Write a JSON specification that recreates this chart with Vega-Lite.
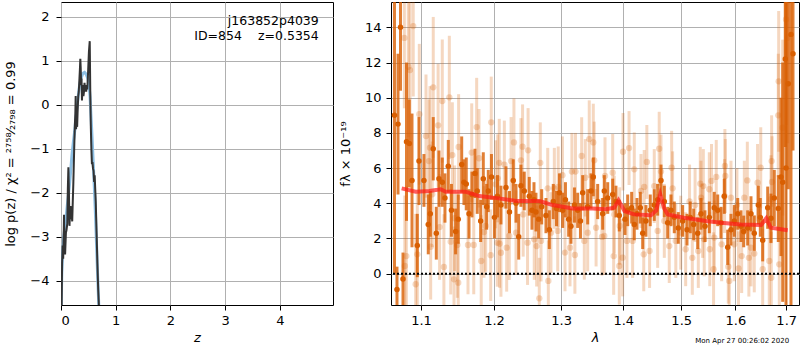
{
"$schema": "https://vega.github.io/schema/vega-lite/v6.json",
"background": "white",
"padding": {"left": 4, "top": 1, "right": 2, "bottom": 0},
"spacing": 4,
"config": {
  "font": "DejaVu Sans",
  "view": {"stroke": "black", "strokeWidth": 1},
  "axis": {"grid": true, "gridColor": "#b0b0b0", "gridWidth": 1, "domain": false, "tickColor": "black", "tickSize": 5, "labelFont": "DejaVu Sans", "labelFontSize": 13, "labelColor": "black", "titleFont": "DejaVu Sans", "titleFontSize": 13, "titleFontWeight": "normal", "titleColor": "black"}
},
"datasets": {
  "pz": [
    {"z":0.012,"lp":-4.55},{"z":0.02,"lp":-3.6},{"z":0.03,"lp":-3.2},{"z":0.04,"lp":-3.5},{"z":0.05,"lp":-2.9},{"z":0.055,"lp":-2.5},{"z":0.065,"lp":-3.3},{"z":0.075,"lp":-3.4},{"z":0.09,"lp":-2.9},{"z":0.1,"lp":-2.85},{"z":0.115,"lp":-2.7},{"z":0.125,"lp":-1.9},{"z":0.135,"lp":-1.42},{"z":0.145,"lp":-2.0},{"z":0.155,"lp":-2.75},{"z":0.165,"lp":-2.4},{"z":0.175,"lp":-2.3},{"z":0.185,"lp":-2.6},{"z":0.195,"lp":-2.5},{"z":0.205,"lp":-2.65},{"z":0.215,"lp":-2.2},{"z":0.225,"lp":-1.8},{"z":0.235,"lp":-1.3},{"z":0.245,"lp":-0.8},{"z":0.255,"lp":-0.4},{"z":0.262,"lp":-0.2},{"z":0.268,"lp":0.2},{"z":0.275,"lp":-0.55},{"z":0.285,"lp":-0.3},{"z":0.295,"lp":-0.5},{"z":0.305,"lp":-0.1},{"z":0.315,"lp":0.2},{"z":0.325,"lp":0.3},{"z":0.335,"lp":0.55},{"z":0.345,"lp":0.8},{"z":0.353,"lp":1.05},{"z":0.36,"lp":0.85},{"z":0.368,"lp":0.45},{"z":0.375,"lp":0.6},{"z":0.383,"lp":0.1},{"z":0.39,"lp":0.35},{"z":0.4,"lp":0.45},{"z":0.41,"lp":0.2},{"z":0.42,"lp":0.3},{"z":0.43,"lp":0.5},{"z":0.44,"lp":0.3},{"z":0.45,"lp":0.4},{"z":0.46,"lp":0.3},{"z":0.47,"lp":0.45},{"z":0.48,"lp":0.35},{"z":0.49,"lp":0.6},{"z":0.5,"lp":0.9},{"z":0.51,"lp":1.2},{"z":0.525,"lp":1.45},{"z":0.535,"lp":0.3},{"z":0.545,"lp":-0.5},{"z":0.555,"lp":-1.0},{"z":0.565,"lp":-1.35},{"z":0.575,"lp":-1.3},{"z":0.585,"lp":-1.45},{"z":0.595,"lp":-1.5},{"z":0.605,"lp":-1.75},{"z":0.615,"lp":-1.6},{"z":0.625,"lp":-1.9},{"z":0.635,"lp":-2.2},{"z":0.65,"lp":-2.9},{"z":0.665,"lp":-3.6},{"z":0.68,"lp":-4.2},{"z":0.692,"lp":-4.55}
  ],
  "pzfit": [
    {"z":0.003,"lp":-4.55},{"z":0.015,"lp":-3.8},{"z":0.03,"lp":-3.35},{"z":0.05,"lp":-3.0},{"z":0.085,"lp":-2.65},{"z":0.11,"lp":-2.35},{"z":0.135,"lp":-2.05},{"z":0.16,"lp":-1.75},{"z":0.18,"lp":-1.45},{"z":0.2,"lp":-1.15},{"z":0.225,"lp":-0.85},{"z":0.25,"lp":-0.6},{"z":0.28,"lp":-0.2},{"z":0.31,"lp":0.15},{"z":0.34,"lp":0.45},{"z":0.37,"lp":0.62},{"z":0.4,"lp":0.72},{"z":0.43,"lp":0.74},{"z":0.46,"lp":0.7},{"z":0.49,"lp":0.6},{"z":0.51,"lp":0.48},{"z":0.53,"lp":0.2},{"z":0.55,"lp":-0.3},{"z":0.57,"lp":-0.8},{"z":0.59,"lp":-1.35},{"z":0.61,"lp":-1.9},{"z":0.63,"lp":-2.5},{"z":0.65,"lp":-3.2},{"z":0.67,"lp":-3.9},{"z":0.69,"lp":-4.55}
  ],
  "lbl": [
    {"z":4.71,"lp":1.825,"t":"j163852p4039"},{"z":3.306,"lp":1.484,"t":"ID=854"},{"z":4.71,"lp":1.484,"t":"z=0.5354"}
  ],
  "dark": [
    {"l":1.0658,"f":9.0,"e":9.0},{"l":1.069,"f":-0.9,"e":1.3},{"l":1.0703,"f":8.5,"e":4.0},{"l":1.0735,"f":14.0,"e":3.6},{"l":1.0767,"f":-0.3,"e":1.5},{"l":1.0812,"f":7.5,"e":4.5},{"l":1.0848,"f":7.4,"e":2.5},{"l":1.0883,"f":5.3,"e":3.8},{"l":1.0952,"f":1.6,"e":1.8},{"l":1.0974,"f":6.4,"e":2.5},{"l":1.1039,"f":5.3,"e":1.5},{"l":1.1096,"f":2.8,"e":1.7},{"l":1.1123,"f":3.4,"e":1.3},{"l":1.1162,"f":7.1,"e":1.8},{"l":1.1203,"f":2.3,"e":1.5},{"l":1.1238,"f":5.4,"e":1.6},{"l":1.1283,"f":5.2,"e":1.4},{"l":1.1319,"f":4.3,"e":1.4},{"l":1.1364,"f":6.1,"e":1.5},{"l":1.1407,"f":3.6,"e":1.5},{"l":1.1464,"f":2.4,"e":1.3},{"l":1.15,"f":3.1,"e":1.4},{"l":1.1547,"f":6.2,"e":1.6},{"l":1.1578,"f":5.2,"e":1.3},{"l":1.161,"f":5.1,"e":1.5},{"l":1.1648,"f":3.4,"e":1.4},{"l":1.1689,"f":4.5,"e":1.3},{"l":1.1731,"f":5.7,"e":1.4},{"l":1.1763,"f":4.7,"e":1.3},{"l":1.1811,"f":3.0,"e":1.2},{"l":1.1848,"f":5.4,"e":1.5},{"l":1.1896,"f":3.8,"e":1.3},{"l":1.1919,"f":4.7,"e":1.2},{"l":1.1964,"f":5.5,"e":1.3},{"l":1.2007,"f":3.2,"e":1.2},{"l":1.205,"f":4.4,"e":1.2},{"l":1.21,"f":3.9,"e":1.1},{"l":1.2173,"f":4.9,"e":1.2},{"l":1.2224,"f":3.5,"e":1.2},{"l":1.2279,"f":5.3,"e":1.2},{"l":1.2319,"f":4.0,"e":1.1},{"l":1.2359,"f":2.1,"e":1.3},{"l":1.2392,"f":5.0,"e":1.2},{"l":1.2441,"f":4.7,"e":1.1},{"l":1.2516,"f":4.4,"e":1.1},{"l":1.2556,"f":3.6,"e":1.1},{"l":1.2586,"f":4.2,"e":1.0},{"l":1.2616,"f":3.5,"e":1.1},{"l":1.2657,"f":3.1,"e":1.1},{"l":1.2702,"f":3.8,"e":1.0},{"l":1.2767,"f":3.3,"e":1.0},{"l":1.2818,"f":2.5,"e":1.1},{"l":1.2879,"f":4.1,"e":1.0},{"l":1.2928,"f":3.7,"e":1.0},{"l":1.2974,"f":4.6,"e":1.1},{"l":1.3024,"f":3.6,"e":1.0},{"l":1.3067,"f":4.2,"e":1.0},{"l":1.3117,"f":3.1,"e":1.0},{"l":1.3153,"f":2.7,"e":1.0},{"l":1.3208,"f":3.9,"e":1.0},{"l":1.3259,"f":3.6,"e":1.0},{"l":1.3303,"f":3.0,"e":1.0},{"l":1.3338,"f":4.6,"e":1.0},{"l":1.3418,"f":3.8,"e":1.0},{"l":1.3471,"f":4.7,"e":1.0},{"l":1.3508,"f":5.5,"e":1.1},{"l":1.3579,"f":4.1,"e":1.0},{"l":1.366,"f":3.4,"e":0.9},{"l":1.3686,"f":4.7,"e":0.9},{"l":1.3742,"f":4.3,"e":0.9},{"l":1.3824,"f":4.5,"e":0.9},{"l":1.3878,"f":4.1,"e":0.9},{"l":1.3933,"f":3.3,"e":0.9},{"l":1.4028,"f":3.1,"e":0.9},{"l":1.4073,"f":3.6,"e":0.9},{"l":1.414,"f":3.75,"e":0.9},{"l":1.4184,"f":2.8,"e":0.9},{"l":1.423,"f":3.4,"e":0.9},{"l":1.4286,"f":3.75,"e":0.9},{"l":1.4327,"f":2.3,"e":0.9},{"l":1.4383,"f":3.0,"e":0.9},{"l":1.4457,"f":3.6,"e":0.9},{"l":1.4526,"f":3.9,"e":0.9},{"l":1.4585,"f":4.2,"e":0.9},{"l":1.4643,"f":5.3,"e":0.9},{"l":1.4701,"f":4.1,"e":0.9},{"l":1.476,"f":2.9,"e":0.9},{"l":1.4818,"f":3.6,"e":0.9},{"l":1.4877,"f":3.2,"e":0.9},{"l":1.4948,"f":2.6,"e":0.9},{"l":1.5026,"f":3.0,"e":0.9},{"l":1.5104,"f":2.5,"e":0.9},{"l":1.5163,"f":3.2,"e":0.9},{"l":1.5225,"f":2.8,"e":0.9},{"l":1.5298,"f":2.3,"e":0.9},{"l":1.5358,"f":3.4,"e":0.9},{"l":1.5431,"f":2.7,"e":0.9},{"l":1.5511,"f":3.2,"e":0.9},{"l":1.5603,"f":3.75,"e":0.9},{"l":1.5667,"f":3.6,"e":0.9},{"l":1.5728,"f":2.9,"e":0.9},{"l":1.579,"f":4.4,"e":1.0},{"l":1.5855,"f":1.5,"e":1.0},{"l":1.5917,"f":2.5,"e":0.9},{"l":1.598,"f":3.0,"e":0.9},{"l":1.6045,"f":3.4,"e":0.9},{"l":1.6108,"f":2.7,"e":0.9},{"l":1.616,"f":2.4,"e":0.9},{"l":1.6237,"f":2.6,"e":1.0},{"l":1.6301,"f":3.4,"e":1.0},{"l":1.6365,"f":2.3,"e":1.0},{"l":1.6444,"f":3.9,"e":1.1},{"l":1.6483,"f":3.2,"e":1.1},{"l":1.653,"f":1.9,"e":1.2},{"l":1.6629,"f":3.75,"e":1.2},{"l":1.6694,"f":3.15,"e":1.4},{"l":1.676,"f":4.3,"e":1.6},{"l":1.684,"f":3.7,"e":1.9},{"l":1.6895,"f":5.5,"e":4.5},{"l":1.6929,"f":5.2,"e":6.8},{"l":1.6981,"f":12.2,"e":5.0},{"l":1.6996,"f":6.0,"e":12.0},{"l":1.7042,"f":10.8,"e":6.0},{"l":1.7097,"f":13.6,"e":15.6},{"l":1.7138,"f":12.5,"e":5.5}
  ],
  "light": [
    {"l":1.0784,"f":13.4,"e":4},{"l":1.079,"f":0.44,"e":4},{"l":1.081,"f":1.0,"e":4},{"l":1.0835,"f":11.76,"e":4},{"l":1.0857,"f":11.57,"e":4},{"l":1.0899,"f":14.07,"e":4},{"l":1.0931,"f":-0.6,"e":4},{"l":1.0952,"f":1.1,"e":3.5},{"l":1.0978,"f":9.06,"e":4},{"l":1.1066,"f":7.82,"e":3.5},{"l":1.1105,"f":6.4,"e":3.5},{"l":1.1119,"f":7.16,"e":3.5},{"l":1.1128,"f":1.53,"e":3},{"l":1.1149,"f":4.51,"e":3},{"l":1.1162,"f":10.59,"e":4},{"l":1.1227,"f":8.43,"e":3.5},{"l":1.1247,"f":2.65,"e":3},{"l":1.1283,"f":9.81,"e":3.5},{"l":1.1305,"f":0.38,"e":3},{"l":1.1378,"f":10.02,"e":3.5},{"l":1.1397,"f":1.82,"e":3},{"l":1.1419,"f":6.74,"e":3},{"l":1.1442,"f":-0.32,"e":3},{"l":1.145,"f":3.15,"e":3},{"l":1.1487,"f":1.63,"e":3},{"l":1.15,"f":-0.51,"e":3},{"l":1.1505,"f":7.2,"e":3},{"l":1.1634,"f":1.63,"e":2.8},{"l":1.1686,"f":6.88,"e":2.8},{"l":1.1714,"f":1.63,"e":2.8},{"l":1.1755,"f":8.33,"e":2.8},{"l":1.1788,"f":6.56,"e":2.8},{"l":1.1819,"f":0.72,"e":2.6},{"l":1.1858,"f":2.37,"e":2.6},{"l":1.1882,"f":2.71,"e":2.6},{"l":1.1953,"f":1.05,"e":2.6},{"l":1.1961,"f":8.6,"e":2.6},{"l":1.2024,"f":5.08,"e":2.5},{"l":1.2047,"f":1.76,"e":2.5},{"l":1.2053,"f":5.42,"e":2.5},{"l":1.2076,"f":6.3,"e":2.5},{"l":1.208,"f":1.7,"e":2.5},{"l":1.21,"f":1.19,"e":2.5},{"l":1.2149,"f":6.2,"e":2.5},{"l":1.2183,"f":1.48,"e":2.5},{"l":1.2221,"f":2.14,"e":2.5},{"l":1.2247,"f":6.4,"e":2.5},{"l":1.2289,"f":7.46,"e":2.5},{"l":1.2319,"f":2.33,"e":2.4},{"l":1.2392,"f":6.44,"e":2.4},{"l":1.2416,"f":7.22,"e":2.4},{"l":1.2425,"f":3.37,"e":2.4},{"l":1.249,"f":1.76,"e":2.4},{"l":1.2498,"f":7.01,"e":2.4},{"l":1.259,"f":1.95,"e":2.3},{"l":1.2626,"f":1.57,"e":2.3},{"l":1.2666,"f":-1.4,"e":2.3},{"l":1.2681,"f":6.3,"e":2.3},{"l":1.2692,"f":1.86,"e":2.3},{"l":1.2794,"f":4.85,"e":2.3},{"l":1.2803,"f":-0.41,"e":2.3},{"l":1.2843,"f":2.33,"e":2.3},{"l":1.2895,"f":4.85,"e":2.3},{"l":1.2947,"f":2.43,"e":2.3},{"l":1.2955,"f":4.93,"e":2.3},{"l":1.302,"f":5.6,"e":2.2},{"l":1.306,"f":1.2,"e":2.2},{"l":1.3138,"f":1.48,"e":2.2},{"l":1.3168,"f":5.8,"e":2.2},{"l":1.3215,"f":1.06,"e":2.2},{"l":1.3224,"f":5.8,"e":2.2},{"l":1.3322,"f":6.69,"e":2.2},{"l":1.3364,"f":1.86,"e":2.2},{"l":1.338,"f":5.45,"e":2.2},{"l":1.3418,"f":2.33,"e":2.2},{"l":1.3443,"f":7.65,"e":2.2},{"l":1.3508,"f":7.46,"e":2.2},{"l":1.3523,"f":6.44,"e":2.2},{"l":1.3553,"f":2.61,"e":2.2},{"l":1.3648,"f":2.09,"e":2.2},{"l":1.3686,"f":2.14,"e":2.2},{"l":1.3698,"f":5.55,"e":2.2},{"l":1.3824,"f":5.74,"e":2.2},{"l":1.384,"f":1.0,"e":2.2},{"l":1.385,"f":3.37,"e":2.2},{"l":1.3933,"f":0.44,"e":2.2},{"l":1.394,"f":2.71,"e":2.2},{"l":1.3989,"f":0.91,"e":2.2},{"l":1.3995,"f":6.93,"e":2.2},{"l":1.4061,"f":1.86,"e":2.1},{"l":1.4096,"f":7.14,"e":2.1},{"l":1.4156,"f":1.86,"e":2.1},{"l":1.4184,"f":5.93,"e":2.1},{"l":1.4298,"f":4.7,"e":2.1},{"l":1.4345,"f":1.1,"e":2.1},{"l":1.4353,"f":4.93,"e":2.1},{"l":1.4398,"f":6.35,"e":2.1},{"l":1.4445,"f":1.29,"e":2.1},{"l":1.4526,"f":4.98,"e":2.1},{"l":1.4585,"f":2.43,"e":2.1},{"l":1.4612,"f":7.1,"e":2.1},{"l":1.4643,"f":5.8,"e":2.1},{"l":1.4701,"f":3.0,"e":2.1},{"l":1.4788,"f":1.57,"e":2.1},{"l":1.483,"f":6.02,"e":2.1},{"l":1.4847,"f":4.85,"e":2.1},{"l":1.4904,"f":1.86,"e":2.1},{"l":1.4992,"f":2.33,"e":2.1},{"l":1.508,"f":1.39,"e":2.1},{"l":1.515,"f":4.1,"e":2.1},{"l":1.52,"f":0.9,"e":2.1},{"l":1.525,"f":3.9,"e":2.1},{"l":1.5309,"f":1.29,"e":2.1},{"l":1.5345,"f":5.11,"e":2.1},{"l":1.5358,"f":4.32,"e":2.1},{"l":1.5388,"f":3.0,"e":2.1},{"l":1.5401,"f":4.98,"e":2.1},{"l":1.5417,"f":1.95,"e":2.1},{"l":1.5511,"f":4.8,"e":2.1},{"l":1.552,"f":1.39,"e":2.1},{"l":1.5552,"f":5.27,"e":2.1},{"l":1.559,"f":0.25,"e":2.1},{"l":1.5603,"f":2.05,"e":2.1},{"l":1.564,"f":5.5,"e":2.1},{"l":1.5741,"f":1.67,"e":2.1},{"l":1.5796,"f":4.41,"e":2.1},{"l":1.5802,"f":6.12,"e":2.1},{"l":1.581,"f":5.55,"e":2.1},{"l":1.5866,"f":0.4,"e":2.1},{"l":1.5885,"f":-0.41,"e":2.1},{"l":1.5917,"f":4.32,"e":2.1},{"l":1.598,"f":1.67,"e":2.1},{"l":1.603,"f":3.9,"e":2.1},{"l":1.606,"f":0.3,"e":2.1},{"l":1.6121,"f":1.0,"e":2.1},{"l":1.6172,"f":4.32,"e":2.1},{"l":1.623,"f":5.3,"e":2.2},{"l":1.626,"f":0.9,"e":2.2},{"l":1.6301,"f":1.48,"e":2.2},{"l":1.6365,"f":1.14,"e":2.2},{"l":1.6429,"f":5.17,"e":2.2},{"l":1.6492,"f":6.02,"e":2.3},{"l":1.653,"f":0.25,"e":2.3},{"l":1.666,"f":0.72,"e":2.5},{"l":1.6694,"f":4.23,"e":2.5},{"l":1.67,"f":-0.23,"e":2.6},{"l":1.6707,"f":6.4,"e":2.6},{"l":1.6715,"f":5.21,"e":2.6},{"l":1.684,"f":9.0,"e":3.5},{"l":1.6848,"f":10.93,"e":4},{"l":1.686,"f":0.53,"e":3},{"l":1.6929,"f":8.3,"e":5},{"l":1.6996,"f":14.45,"e":6},{"l":1.703,"f":13.41,"e":6}
  ],
  "model": [
    {"l":1.075,"f":4.85},{"l":1.093,"f":4.66},{"l":1.111,"f":4.7},{"l":1.126,"f":4.8},{"l":1.133,"f":4.66},{"l":1.16,"f":4.66},{"l":1.179,"f":4.41},{"l":1.207,"f":4.28},{"l":1.232,"f":4.13},{"l":1.267,"f":4.13},{"l":1.287,"f":3.9},{"l":1.318,"f":3.71},{"l":1.35,"f":3.71},{"l":1.371,"f":3.66},{"l":1.385,"f":3.75},{"l":1.392,"f":4.17},{"l":1.402,"f":3.56},{"l":1.418,"f":3.37},{"l":1.447,"f":3.32},{"l":1.456,"f":3.6},{"l":1.463,"f":4.5},{"l":1.47,"f":3.7},{"l":1.476,"f":3.37},{"l":1.505,"f":3.18},{"l":1.545,"f":3.0},{"l":1.573,"f":2.9},{"l":1.611,"f":2.8},{"l":1.65,"f":2.77},{"l":1.66,"f":3.15},{"l":1.669,"f":2.61},{"l":1.703,"f":2.47}
  ]
},
"hconcat": [
  {
    "width": 272, "height": 303,
    "layer": [
      {"data": {"name": "pzfit"}, "mark": {"type": "line", "color": "#8dbfe3", "strokeWidth": 3, "clip": true},
       "encoding": {
         "x": {"field": "z", "type": "quantitative", "scale": {"domain": [0, 4.97], "nice": false, "zero": false}, "axis": {"values": [0,1,2,3,4], "title": "z", "titleFontStyle": "italic", "labelPadding": 4, "titlePadding": 4}},
         "y": {"field": "lp", "type": "quantitative", "scale": {"domain": [-4.55, 2.34], "nice": false, "zero": false}, "axis": {"values": [-4,-3,-2,-1,0,1,2], "title": "log p(z) / χ² = ²⁷⁵⁸⁄₂₇₉₈ = 0.99", "labelPadding": 7, "titlePadding": 12}}
       }},
      {"data": {"name": "pz"}, "mark": {"type": "line", "color": "#333333", "strokeWidth": 2, "clip": true},
       "encoding": {"x": {"field": "z", "type": "quantitative", "title": "z"}, "y": {"field": "lp", "type": "quantitative", "title": "log p(z) / χ² = ²⁷⁵⁸⁄₂₇₉₈ = 0.99"}}},
      {"data": {"name": "lbl"}, "mark": {"type": "text", "align": "right", "baseline": "alphabetic", "fontSize": 12.5, "color": "black"},
       "encoding": {"x": {"field": "z", "type": "quantitative", "title": "z"}, "y": {"field": "lp", "type": "quantitative", "title": "log p(z) / χ² = ²⁷⁵⁸⁄₂₇₉₈ = 0.99"}, "text": {"field": "t"}}}
    ]
  },
  {
    "width": 408, "height": 303,
    "layer": [
      {"data": {"name": "light"}, "mark": {"type": "errorbar", "color": "#d95f02", "opacity": 0.25, "thickness": 3, "clip": true},
       "encoding": {
         "x": {"field": "l", "type": "quantitative", "title": "λ", "scale": {"type": "log", "domain": [1.0614, 1.7261], "nice": false}, "axis": {"values": [1.1,1.2,1.3,1.4,1.5,1.6,1.7], "format": ".1f", "title": "λ", "titleFontStyle": "italic", "labelPadding": 4, "titlePadding": 4}},
         "y": {"field": "f", "type": "quantitative", "title": "fλ × 10⁻¹⁹", "scale": {"domain": [-1.78, 15.44], "nice": false, "zero": false}, "axis": {"values": [0,2,4,6,8,10,12,14], "title": "fλ × 10⁻¹⁹", "labelPadding": 5, "titlePadding": 12}},
         "yError": {"field": "e"}
       }},
      {"data": {"name": "light"}, "mark": {"type": "circle", "color": "#d95f02", "opacity": 0.25, "size": 40, "clip": true},
       "encoding": {"x": {"field": "l", "type": "quantitative", "title": "λ"}, "y": {"field": "f", "type": "quantitative", "title": "fλ × 10⁻¹⁹"}}},
      {"data": {"name": "dark"}, "mark": {"type": "errorbar", "color": "#d95f02", "opacity": 0.8, "thickness": 3, "clip": true},
       "encoding": {"x": {"field": "l", "type": "quantitative", "title": "λ"}, "y": {"field": "f", "type": "quantitative", "title": "fλ × 10⁻¹⁹"}, "yError": {"field": "e"}}},
      {"data": {"name": "dark"}, "mark": {"type": "circle", "color": "#d95f02", "opacity": 1, "size": 30, "clip": true},
       "encoding": {"x": {"field": "l", "type": "quantitative", "title": "λ"}, "y": {"field": "f", "type": "quantitative", "title": "fλ × 10⁻¹⁹"}}},
      {"data": {"name": "model"}, "mark": {"type": "line", "color": "#ff1a1a", "opacity": 0.7, "strokeWidth": 4, "clip": true},
       "encoding": {"x": {"field": "l", "type": "quantitative", "title": "λ"}, "y": {"field": "f", "type": "quantitative", "title": "fλ × 10⁻¹⁹"}}},
      {"data": {"values": [{"f": 0}]}, "mark": {"type": "rule", "color": "black", "strokeDash": [2, 2], "strokeWidth": 2},
       "encoding": {"y": {"field": "f", "type": "quantitative", "title": "fλ × 10⁻¹⁹"}}},
      {"data": {"values": [{"l": 1.706, "f": -3.82, "t": "Mon Apr 27 00:26:02 2020"}]}, "mark": {"type": "text", "align": "right", "fontSize": 7, "color": "black"},
       "encoding": {"x": {"field": "l", "type": "quantitative", "title": "λ"}, "y": {"field": "f", "type": "quantitative", "title": "fλ × 10⁻¹⁹"}, "text": {"field": "t"}}}
    ]
  }
]
}
